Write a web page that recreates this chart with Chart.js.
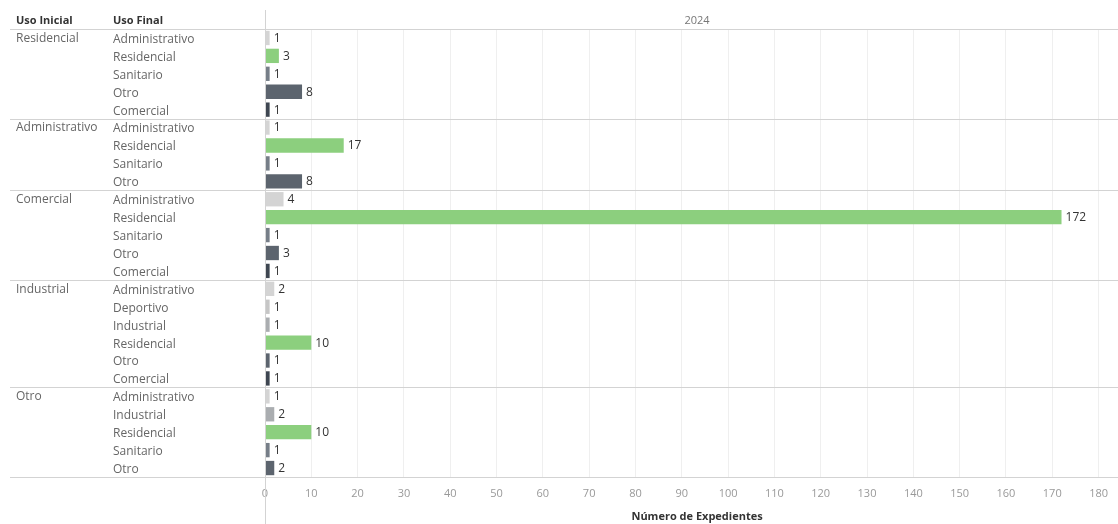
<!DOCTYPE html>
<html>
<head>
<meta charset="utf-8">
<title>Expedientes por uso</title>
<script src="https://cdn.jsdelivr.net/npm/chart.js@4.4.1/dist/chart.umd.min.js"></script>
<style>
  html, body { margin: 0; padding: 0; background: #fff; }
  canvas { display: block; }
</style>
</head>
<body>
<canvas id="myChart" width="1118" height="524"></canvas>
<script>
// one entry per row, top to bottom
const usoInicial = [
    'Residencial', 'Residencial', 'Residencial', 'Residencial', 'Residencial',
    'Administrativo', 'Administrativo', 'Administrativo', 'Administrativo',
    'Comercial', 'Comercial', 'Comercial', 'Comercial', 'Comercial',
    'Industrial', 'Industrial', 'Industrial', 'Industrial', 'Industrial', 'Industrial',
    'Otro', 'Otro', 'Otro', 'Otro', 'Otro'
];
const usoFinal = [
    'Administrativo', 'Residencial', 'Sanitario', 'Otro', 'Comercial',
    'Administrativo', 'Residencial', 'Sanitario', 'Otro',
    'Administrativo', 'Residencial', 'Sanitario', 'Otro', 'Comercial',
    'Administrativo', 'Deportivo', 'Industrial', 'Residencial', 'Otro', 'Comercial',
    'Administrativo', 'Industrial', 'Residencial', 'Sanitario', 'Otro'
];
const expedientes = [
    1, 3, 1, 8, 1,
    1, 17, 1, 8,
    4, 172, 1, 3, 1,
    2, 1, 1, 10, 1, 1,
    1, 2, 10, 1, 2
];
const xTicks = [0, 10, 20, 30, 40, 50, 60, 70, 80, 90, 100, 110, 120, 130, 140, 150, 160, 170, 180];
const anio = '2024';
const tituloX = 'Número de Expedientes';

const colores = {
    Administrativo: '#d4d4d4',
    Deportivo: '#c6c6c6',
    Industrial: '#aaadb0',
    Residencial: '#8ccf7e',
    Sanitario: '#767e88',
    Otro: '#5c646e',
    Comercial: '#3e4651'
};

Chart.defaults.font.family = "'Open Sans', sans-serif";

const lineColor = '#d3d3d3';

const tablePlugin = {
    id: 'tableLayout',
    afterDraw(chart) {
        const c = chart.ctx;
        const area = chart.chartArea;
        const y = chart.scales.y;
        const W = chart.width;
        c.save();

        // horizontal separators: header, groups, bottom
        c.strokeStyle = lineColor;
        c.lineWidth = 1;
        const seps = [area.top, area.bottom];
        for (let i = 1; i < usoInicial.length; i++) {
            if (usoInicial[i] !== usoInicial[i - 1]) {
                seps.push((y.getPixelForValue(i - 1) + y.getPixelForValue(i)) / 2);
            }
        }
        seps.forEach(s => {
            const yy = Math.round(s) + 0.5;
            c.beginPath();
            c.moveTo(10, yy);
            c.lineTo(W, yy);
            c.stroke();
        });

        // vertical divider at the axis origin
        const x0 = Math.round(chart.scales.x.getPixelForValue(0)) + 0.5;
        c.beginPath();
        c.moveTo(x0, 10);
        c.lineTo(x0, chart.height);
        c.stroke();

        // column headers
        c.fillStyle = '#333';
        c.font = "bold 11px 'Open Sans', sans-serif";
        c.textBaseline = 'middle';
        c.textAlign = 'left';
        c.fillText('Uso Inicial', 16, 21);
        c.fillText('Uso Final', 113, 21);

        const mid = (area.left + area.right) / 2 + 6;
        c.textAlign = 'center';
        c.fillText(tituloX, mid, 517);
        c.font = "11px 'Open Sans', sans-serif";
        c.fillStyle = '#777';
        c.fillText(anio, mid, 21);

        // row labels
        c.textAlign = 'left';
        c.font = "12px 'Open Sans', sans-serif";
        c.fillStyle = '#666';
        for (let i = 0; i < usoFinal.length; i++) {
            const py = y.getPixelForValue(i);
            c.fillText(usoFinal[i], 113, py + 1.5);
            if (i === 0 || usoInicial[i] !== usoInicial[i - 1]) {
                c.fillText(usoInicial[i], 16, py + 0.5);
            }
        }

        // value labels at the bar ends
        c.fillStyle = '#333';
        const meta = chart.getDatasetMeta(0);
        meta.data.forEach((bar, i) => {
            c.fillText(String(expedientes[i]), bar.x + 4, bar.y + 0.5);
        });

        c.restore();
    }
};

const ctx = document.getElementById('myChart').getContext('2d');
const myChart = new Chart(ctx, {
    type: 'bar',
    data: {
        labels: usoFinal.map((f, i) => i),
        datasets: [{
            data: expedientes,
            backgroundColor: usoFinal.map(f => colores[f]),
            barPercentage: 0.8,
            categoryPercentage: 1
        }]
    },
    options: {
        indexAxis: 'y',
        responsive: false,
        animation: false,
        devicePixelRatio: 1,
        layout: {
            padding: { left: 265, top: 29, right: 0, bottom: 0 }
        },
        plugins: {
            legend: { display: false },
            tooltip: { enabled: false }
        },
        scales: {
            y: {
                display: false
            },
            x: {
                min: 0,
                max: 184,
                border: { display: false },
                grid: {
                    color: '#efefef',
                    drawTicks: false
                },
                ticks: {
                    color: '#999',
                    font: { size: 11 },
                    padding: 10,
                    maxRotation: 0,
                    autoSkip: false
                },
                afterBuildTicks(scale) {
                    scale.ticks = xTicks.map(v => ({ value: v }));
                },
                afterFit(scale) {
                    scale.height = 47;
                }
            }
        }
    },
    plugins: [tablePlugin]
});
</script>
</body>
</html>
